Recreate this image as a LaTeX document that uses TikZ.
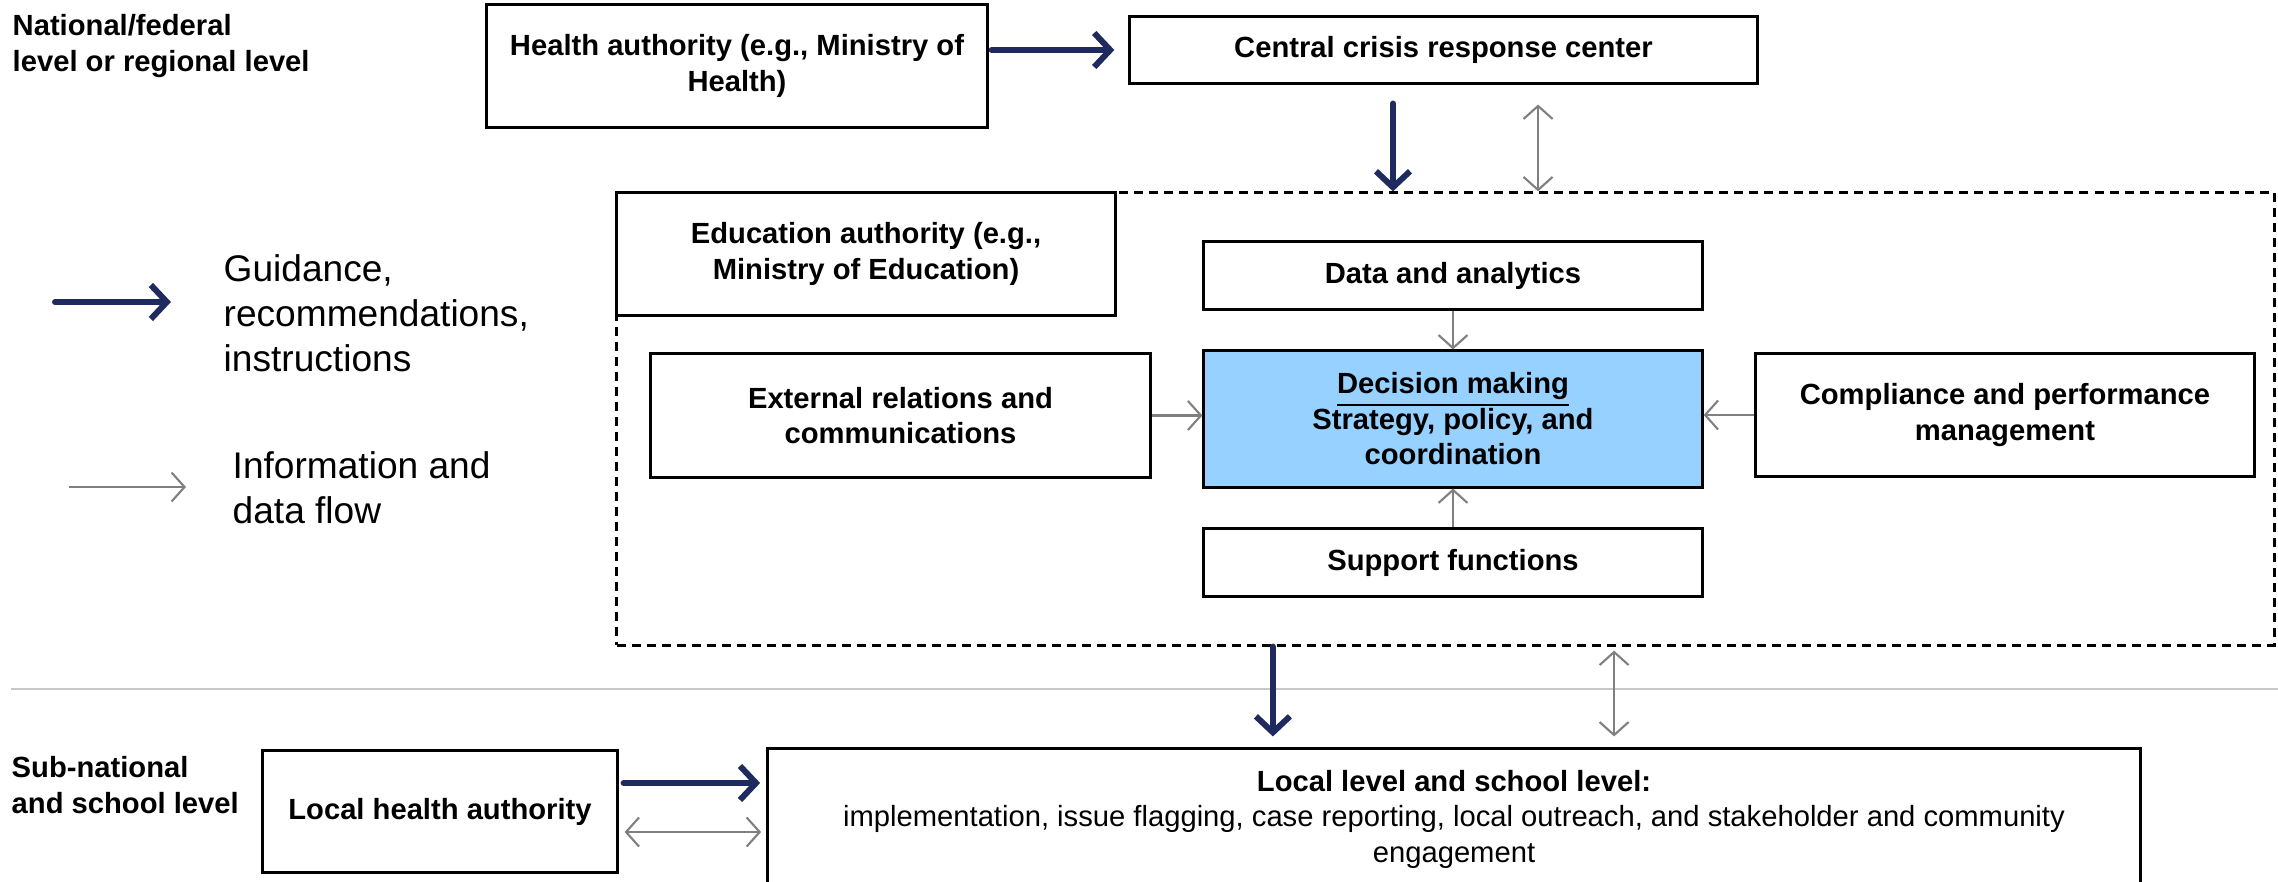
\documentclass[tikz,border=0pt]{standalone}
\usepackage{fontspec}
\setmainfont{Liberation Sans}
\usetikzlibrary{arrows.meta}

\definecolor{navy}{RGB}{31,43,94}
\definecolor{infogray}{RGB}{128,128,128}
\definecolor{rulegray}{RGB}{200,200,200}
\definecolor{decisionblue}{RGB}{151,209,255}

\begin{document}
\begin{tikzpicture}[x=0.01cm,y=-0.01cm]
		\tikzstyle{BoxStyle}   = [rectangle, draw, fill=white, line width=0.85pt, align=center, inner sep=0pt, font=\bfseries\fontsize{8.3}{10.1}\selectfont]
		\tikzstyle{LevelStyle} = [align=left, inner sep=0pt, anchor=west, font=\bfseries\fontsize{8.3}{10.1}\selectfont]
		\tikzstyle{KeyStyle}   = [align=left, inner sep=0pt, anchor=west, font=\fontsize{10.55}{12.8}\selectfont]
		\tikzstyle{GuideStyle} = [draw=navy, line width=1.7pt, line cap=round, -{Straight Barb[length=0.16cm,width=0.34cm]}]
		\tikzstyle{InfoStyle}  = [draw=infogray, line width=0.6pt, -{Straight Barb[length=0.13cm,width=0.29cm]}]
		\tikzstyle{InfoBoth}   = [draw=infogray, line width=0.6pt, {Straight Barb[length=0.13cm,width=0.29cm]}-{Straight Barb[length=0.13cm,width=0.29cm]}]

		\clip (0,0) rectangle (2278,882);

		% levels
		\node[LevelStyle] (National) at (12,46) {National/federal\\level or regional level};
		\node[LevelStyle] (SubNational) at (11,785) {Sub-national\\and school level};
		\draw[rulegray, line width=0.85pt] (11,689) -- (2278,689);

		% legend
		\coordinate (GuideKey) at (55,302);
		\node[KeyStyle] (GuideText) at (223,313) {Guidance,\\recommendations,\\instructions};
		\coordinate (InfoKey) at (69,487);
		\node[KeyStyle] (InfoText) at (232,488) {Information and\\data flow};
		\draw[GuideStyle, shorten >=0.52cm] (GuideKey) -- (GuideKey -| GuideText.west);
		\draw[InfoStyle, shorten >=0.46cm] (InfoKey) -- (InfoKey -| InfoText.west);

		% national level
		\node[BoxStyle, minimum width=5cm, minimum height=1.22cm] (Health) at (737,66) {Health authority (e.g., Ministry of\\Health)};
		\node[BoxStyle, minimum width=6.27cm, minimum height=0.66cm] (Central) at (1443.5,50) {Central crisis response center};
		\node[draw, line width=0.85pt, dash pattern=on 0.09cm off 0.06cm, minimum width=16.57cm, minimum height=4.52cm] (Authority) at (1445.5,419) {};
		\node[BoxStyle, minimum width=4.98cm, minimum height=1.22cm] (Education) at (866,254) {Education authority (e.g.,\\Ministry of Education)};
		\node[BoxStyle, minimum width=4.99cm, minimum height=1.23cm] (External) at (900.5,415.5) {External relations and\\communications};
		\node[BoxStyle, minimum width=4.98cm, minimum height=0.67cm] (Data) at (1453,275.5) {Data and analytics};
		\node[BoxStyle, fill=decisionblue, minimum width=4.98cm, minimum height=1.36cm] (Decision) at (1453,419) {\underline{Decision making}\\Strategy, policy, and\\coordination};
		\node[BoxStyle, minimum width=4.98cm, minimum height=1.22cm] (Compliance) at (2005,415) {Compliance and performance\\management};
		\node[BoxStyle, minimum width=4.98cm, minimum height=0.67cm] (Support) at (1453,562.5) {Support functions};

		% sub-national level
		\node[BoxStyle, minimum width=3.54cm, minimum height=1.21cm] (LocalHealth) at (440,811.5) {Local health authority};
		\node[BoxStyle, font=\fontsize{8.3}{10.1}\selectfont, minimum width=13.72cm, minimum height=1.4cm] (LocalLevel) at (1454,819) {\textbf{Local level and school level:}\\implementation, issue flagging, case reporting, local outreach, and stakeholder and community\\engagement};

		\draw[GuideStyle, shorten <=0.03cm, shorten >=0.14cm] (Health.east |- Central.west) -- (Central.west);
		\draw[GuideStyle, shorten <=0.19cm] ([xshift=-0.505cm]Central.south) -- ([xshift=-0.505cm]Central.south |- Authority.north);
		\draw[InfoBoth, shorten <=0.2cm] ([xshift=0.945cm]Central.south) -- ([xshift=0.945cm]Central.south |- Authority.north);
		\draw[InfoStyle] (Data) -- (Decision);
		\draw[InfoStyle] (Support) -- (Decision);
		\draw[InfoStyle] (External.east) -- (External.east -| Decision.west);
		\draw[InfoStyle] (Compliance.west) -- (Compliance.west -| Decision.east);
		\draw[GuideStyle, shorten >=0.11cm] ([xshift=-1.81cm]LocalLevel.north |- Authority.south) -- ([xshift=-1.81cm]LocalLevel.north);
		\draw[InfoBoth, shorten <=0.04cm, shorten >=0.11cm] ([xshift=1.6cm]LocalLevel.north |- Authority.south) -- ([xshift=1.6cm]LocalLevel.north);
		\draw[GuideStyle, shorten <=0.05cm, shorten >=0.06cm] ([yshift=0.285cm]LocalHealth.east) -- ([yshift=0.285cm]LocalHealth.east -| LocalLevel.west);
		\draw[InfoBoth, shorten <=0.06cm, shorten >=0.05cm] ([yshift=-0.205cm]LocalHealth.east) -- ([yshift=-0.205cm]LocalHealth.east -| LocalLevel.west);
	\end{tikzpicture}
\end{document}
